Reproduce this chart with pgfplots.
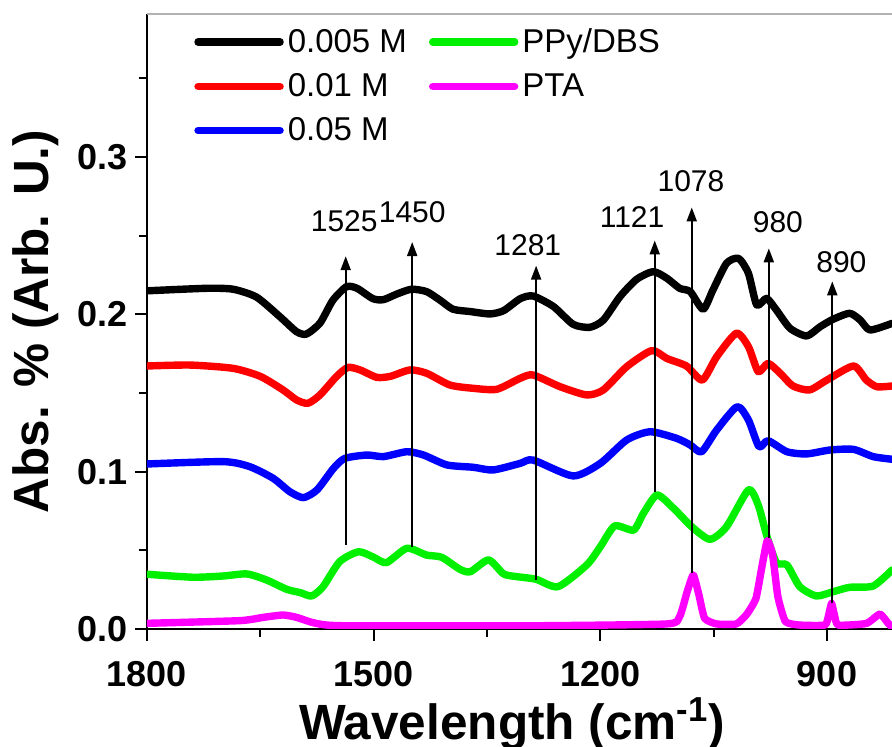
\documentclass[border=0pt]{standalone}
\usepackage{fontspec}
\setmainfont{Liberation Sans}
\usepackage{pgfplots}
\pgfplotsset{compat=1.18}
\usetikzlibrary{arrows.meta,calc}

\definecolor{cgreen}{RGB}{0,240,0}
\definecolor{cmag}{RGB}{255,0,255}

\begin{document}
\begin{tikzpicture}
\begin{axis}[
  name=ax,
  width=372.5pt, height=307.5pt, scale only axis,
  x dir=reverse,
  xmin=814, xmax=1800, ymin=0, ymax=0.391,
  xtick={900,1200,1500,1800}, minor xtick={1050,1350,1650},
  ytick={0,0.1,0.2,0.3}, minor ytick={0.05,0.15,0.25,0.35},
  axis x line*=bottom, axis y line*=left,
  axis line style={line width=1pt},
  tick style={line width=1pt, black},
  tick align=outside, major tick length=6pt, minor tick length=4pt,
  /pgf/number format/assume math mode=true,
  xticklabel style={/pgf/number format/set thousands separator={}},
  yticklabel style={/pgf/number format/fixed, /pgf/number format/precision=1,
    /pgf/number format/fixed zerofill},
  xticklabel shift=6.5pt,
  tick label style={font=\bfseries\fontsize{18}{20}\selectfont},
  xlabel={Wavelength (cm\textsuperscript{-1})},
  ylabel={Abs. \% (Arb. U.)},
  label style={font=\bfseries\fontsize{24.75}{28}\selectfont},
  xlabel style={at={(axis description cs:0.49,-0.154)}, anchor=center, inner sep=0pt},
  ylabel style={at={(axis description cs:-0.150,0.5)}, anchor=center},
  legend columns=2,
  legend cell align=left,
  legend style={draw=none, fill=none, at={(axis description cs:0.055,0.99)}, anchor=north west,
    font=\fontsize{16.5}{19}\selectfont, row sep=5pt,
    /tikz/every even column/.append style={column sep=9pt}},
  legend image code/.code={\draw[#1] (0pt,0pt) -- (41pt,0pt);},
  every axis plot/.append style={line width=3.7pt, line join=round, line cap=round},
]
% black 0.005 M
\addplot[black, smooth, tension=0.4, forget plot] coordinates {
(1800,0.215) (1721,0.2166) (1686,0.216) (1655,0.211) (1624,0.1985) (1602,0.189) (1589,0.1875)
(1571,0.1945) (1554,0.209) (1536,0.2176) (1522,0.2166) (1501,0.210) (1487,0.2094) (1469,0.213)
(1450,0.216) (1430,0.2145) (1412,0.209) (1395,0.2033) (1372,0.2018) (1346,0.2003) (1328,0.2024)
(1306,0.210) (1289,0.2117) (1262,0.205) (1236,0.1937) (1214,0.1918) (1196,0.1964) (1174,0.2113)
(1152,0.2223) (1130,0.2272) (1112,0.223) (1095,0.2166) (1081,0.2145) (1064,0.2033) (1051,0.2155)
(1033,0.2325) (1017,0.2356) (1004,0.2261) (993,0.206) (980,0.2102) (967,0.2028) (949,0.1912)
(927,0.1863) (909,0.1922) (892,0.1969) (870,0.2007) (856,0.1964) (843,0.1901) (814,0.1943)
};
% red 0.01 M
\addplot[red, smooth, tension=0.4, forget plot] coordinates {
(1800,0.1672) (1743,0.1678) (1686,0.1657) (1650,0.1606) (1620,0.152) (1602,0.1456) (1587,0.1435)
(1571,0.1488) (1549,0.1606) (1534,0.1663) (1518,0.1647) (1496,0.160) (1478,0.1606) (1452,0.1647)
(1430,0.1626) (1399,0.1551) (1368,0.153) (1337,0.1524) (1306,0.1594) (1289,0.1615) (1253,0.154)
(1218,0.1488) (1196,0.152) (1165,0.1668) (1132,0.177) (1112,0.172) (1086,0.1672) (1065,0.1583)
(1046,0.1731) (1020,0.188) (1004,0.1795) (991,0.1636) (978,0.1689) (962,0.1626) (945,0.1545)
(923,0.152) (900,0.1583) (865,0.1672) (848,0.1583) (834,0.154) (814,0.1545)
};
% blue 0.05 M
\addplot[blue, smooth, tension=0.4, forget plot] coordinates {
(1800,0.1049) (1699,0.1064) (1664,0.1032) (1633,0.0958) (1611,0.0873) (1593,0.0835) (1575,0.0884)
(1553,0.1022) (1538,0.1085) (1509,0.1106) (1487,0.1096) (1456,0.1127) (1434,0.1106) (1403,0.1043)
(1368,0.1028) (1342,0.1011) (1306,0.1053) (1289,0.1074) (1236,0.0973) (1200,0.1053) (1165,0.1202)
(1134,0.1254) (1099,0.1212) (1081,0.117) (1066,0.1127) (1046,0.1265) (1019,0.1413) (1004,0.1329)
(990,0.1159) (978,0.1197) (953,0.1127) (927,0.1113) (896,0.1138) (865,0.1142) (839,0.1096) (814,0.1079)
};
% green PPy/DBS
\addplot[cgreen, smooth, tension=0.4, forget plot] coordinates {
(1800,0.0348) (1739,0.0329) (1699,0.0337) (1668,0.035) (1642,0.0312) (1615,0.0252) (1597,0.0231)
(1582,0.021) (1567,0.0269) (1545,0.0428) (1520,0.0491) (1500,0.0456) (1483,0.0422) (1456,0.0513)
(1430,0.047) (1410,0.0456) (1386,0.038) (1372,0.0364) (1348,0.0439) (1328,0.035) (1311,0.0333)
(1285,0.0316) (1256,0.0269) (1218,0.0407) (1200,0.0523) (1181,0.0655) (1156,0.0629) (1143,0.0735)
(1125,0.0852) (1103,0.0767) (1079,0.065) (1055,0.057) (1033,0.065) (1004,0.0884) (991,0.0788)
(980,0.0598) (967,0.0422) (953,0.0407) (936,0.0269) (914,0.021) (892,0.0237) (870,0.0265)
(839,0.0273) (814,0.0375)
};
% magenta PTA
\addplot[cmag, smooth, tension=0.3, forget plot] coordinates {
(1800,0.0036) (1677,0.0053) (1646,0.0074) (1620,0.0089) (1602,0.0074) (1580,0.004) (1545,0.0021)
(1300,0.002) (1112,0.0032) (1095,0.0079) (1085,0.0238) (1077,0.0343) (1070,0.0227) (1062,0.0068)
(1046,0.0032) (1020,0.0032) (1006,0.0095) (994,0.0195) (986,0.0400) (979,0.0562) (972,0.0471)
(965,0.0205) (955,0.0047) (936,0.0025) (903,0.0025) (898,0.0085) (894,0.0163) (890,0.0085)
(885,0.0025) (848,0.0035) (830,0.0095) (819,0.0035) (814,0.0015)
};
\addlegendimage{black}
\addlegendentry{0.005 M}
\addlegendimage{cgreen}
\addlegendentry{PPy/DBS}
\addlegendimage{red}
\addlegendentry{0.01 M}
\addlegendimage{cmag}
\addlegendentry{PTA}
\addlegendimage{blue}
\addlegendentry{0.05 M}
% annotation arrows
\begin{scope}[line width=1pt, -{Triangle[length=7pt,width=5pt]}]
\draw (axis cs:1537,0.0534) -- (axis cs:1537,0.237);
\draw (axis cs:1449,0.052) -- (axis cs:1449,0.246);
\draw (axis cs:1285,0.031) -- (axis cs:1285,0.231);
\draw (axis cs:1128,0.087) -- (axis cs:1128,0.247);
\draw (axis cs:1079,0.0356) -- (axis cs:1079,0.268);
\draw (axis cs:977,0.058) -- (axis cs:977,0.242);
\draw (axis cs:893,0.0165) -- (axis cs:893,0.221);
\end{scope}
\begin{scope}[every node/.style={font=\fontsize{15}{18}\selectfont, inner sep=0pt}]
\node at (axis cs:1539,0.259) {1525};
\node at (axis cs:1449,0.265) {1450};
\node at (axis cs:1296,0.244) {1281};
\node at (axis cs:1158,0.262) {1121};
\node at (axis cs:1080,0.285) {1078};
\node at (axis cs:965,0.2584) {980};
\node at (axis cs:881,0.2333) {890};
\end{scope}
\draw[gray!60, line width=1pt] (rel axis cs:0,1) -- (rel axis cs:1,1);
\end{axis}
\pgfresetboundingbox
\path[use as bounding box] ($(ax.south west)+(-73.5pt,-59pt)$) rectangle ($(ax.north east)+(0pt,7pt)$);
\end{tikzpicture}
\end{document}
